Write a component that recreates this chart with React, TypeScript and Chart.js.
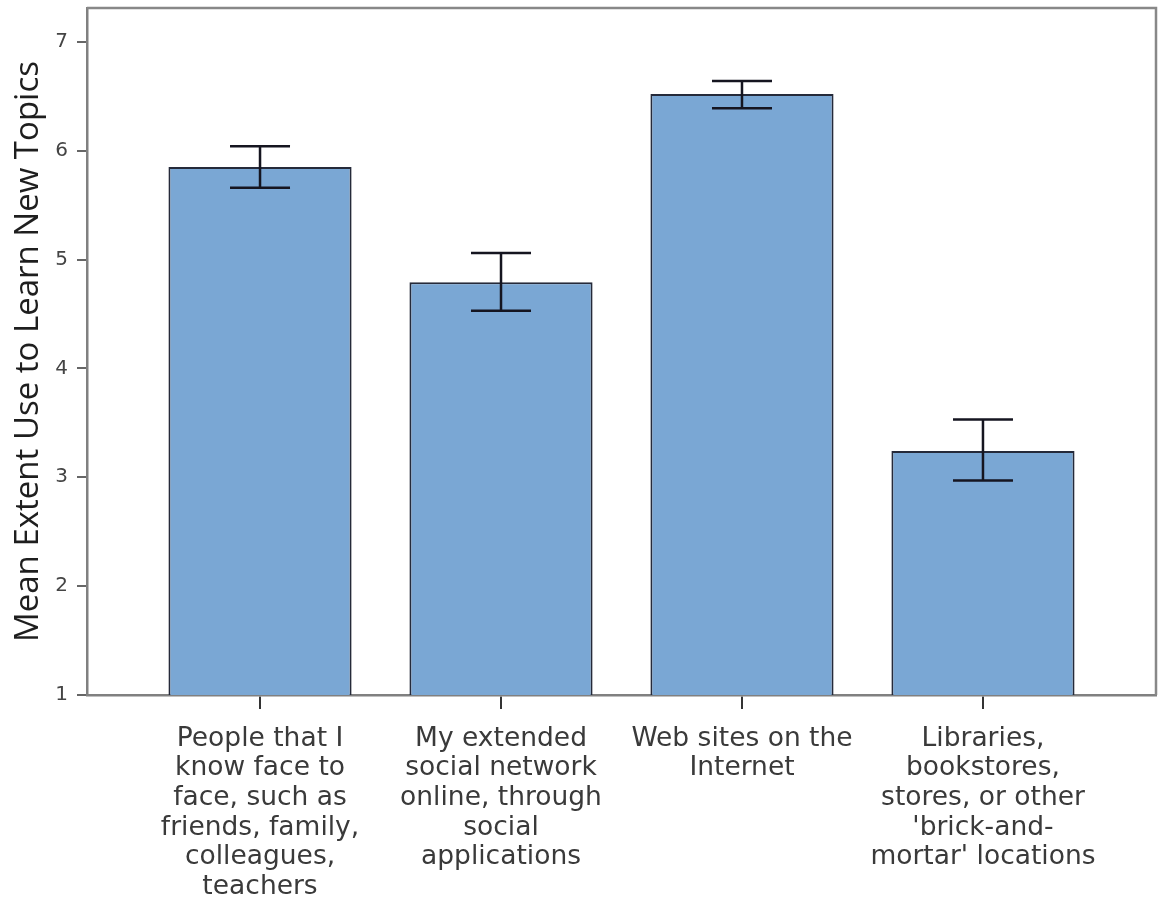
import React, { useEffect, useRef } from "react";
import { Chart, registerables } from "chart.js";

Chart.register(...registerables);

const categories: string[][] = [
  ["People that I", "know face to", "face, such as", "friends, family,", "colleagues,", "teachers"],
  ["My extended", "social network", "online, through", "social", "applications"],
  ["Web sites on the", "Internet"],
  ["Libraries,", "bookstores,", "stores, or other", "'brick-and-", "mortar' locations"],
];
const means = [5.85, 4.79, 6.52, 3.24];
const ciLow = [5.66, 4.53, 6.39, 2.97];
const ciHigh = [6.04, 5.06, 6.64, 3.53];
const yTicks = [1, 2, 3, 4, 5, 6, 7];
const yTitle = "Mean Extent Use to Learn New Topics";

const FONT = "'DejaVu Sans', Verdana, sans-serif";
const TITLE_FONT = "'Open Sans', 'Noto Sans', sans-serif";

const errorBarPlugin = {
  id: "errorBars",
  afterDatasetsDraw(chart: any) {
    const xs = chart.scales.x;
    const ys = chart.scales.y;
    const ctx = chart.ctx;
    ctx.save();
    ctx.strokeStyle = "#151520";
    ctx.lineWidth = 2.5;
    means.forEach((_, i) => {
      const x = xs.getPixelForValue(i);
      const yh = ys.getPixelForValue(ciHigh[i]);
      const yl = ys.getPixelForValue(ciLow[i]);
      const half = 30;
      ctx.beginPath();
      ctx.moveTo(x, yh);
      ctx.lineTo(x, yl);
      ctx.moveTo(x - half, yh);
      ctx.lineTo(x + half, yh);
      ctx.moveTo(x - half, yl);
      ctx.lineTo(x + half, yl);
      ctx.stroke();
    });
    ctx.restore();
  },
};

const framePlugin = {
  id: "frame",
  afterDraw(chart: any) {
    const { ctx, chartArea } = chart;
    ctx.save();
    ctx.strokeStyle = "#888888";
    ctx.lineWidth = 2.5;
    ctx.beginPath();
    ctx.moveTo(chartArea.left, chartArea.top);
    ctx.lineTo(chartArea.right, chartArea.top);
    ctx.lineTo(chartArea.right, chartArea.bottom);
    ctx.stroke();
    ctx.restore();
  },
};

export default function App() {
  const ref = useRef<HTMLCanvasElement | null>(null);

  useEffect(() => {
    document.body.style.margin = "0";
    if (!ref.current) return;
    const chart = new Chart(ref.current, {
      type: "bar",
      data: {
        datasets: [
          {
            data: means.map((v, i) => ({ x: i, y: v })),
            backgroundColor: "rgb(122,167,212)",
            borderColor: "#252a3a",
            borderWidth: 2,
            barPercentage: 0.76,
            categoryPercentage: 1,
          },
        ],
      },
      options: {
        responsive: false,
        animation: false,
        devicePixelRatio: 1,
        layout: { padding: { left: 0, top: 8, right: 4, bottom: 0 } },
        plugins: { legend: { display: false }, tooltip: { enabled: false } },
        scales: {
          x: {
            type: "linear",
            offset: false,
            min: -0.718,
            max: 3.718,
            afterBuildTicks: (scale: any) => {
              scale.ticks = categories.map((_, i) => ({ value: i }));
            },
            afterFit: (scale: any) => {
              scale.height = 211;
              scale.paddingLeft = 0;
              scale.paddingRight = 0;
            },
            grid: { offset: false, drawOnChartArea: false, drawTicks: true, tickLength: 14, color: "#333", lineWidth: 2 },
            border: { color: "#808080", width: 2.5 },
            ticks: {
              autoSkip: false,
              maxRotation: 0,
              minRotation: 0,
              padding: 15,
              color: "#3a3a3a",
              font: { family: FONT, size: 26.5, lineHeight: 1.12 },
              callback: (v: any) => categories[Number(v)] ?? "",
            },
          },
          y: {
            min: 1,
            max: 7.31,
            afterBuildTicks: (scale: any) => {
              scale.ticks = yTicks.map((v) => ({ value: v }));
            },
            afterFit: (scale: any) => {
              scale.width = 87;
              scale.paddingTop = 0;
              scale.paddingBottom = 0;
            },
            grid: { drawOnChartArea: false, drawTicks: true, tickLength: 10, color: "#666", lineWidth: 2 },
            border: { color: "#808080", width: 2.5 },
            ticks: {
              padding: 9,
              color: "#444",
              font: { family: FONT, size: 20 },
            },
            title: {
              display: true,
              text: yTitle,
              color: "#1e1e1e",
              font: { family: TITLE_FONT, size: 33 },
              padding: { top: 9, bottom: 0 },
            },
          },
        },
      },
      plugins: [errorBarPlugin, framePlugin],
    } as any);
    return () => chart.destroy();
  }, []);

  return (
    <div style={{ position: "absolute", left: 0, top: 0, width: 1160, height: 906, background: "#fff" }}>
      <canvas ref={ref} width={1160} height={906} />
    </div>
  );
}
